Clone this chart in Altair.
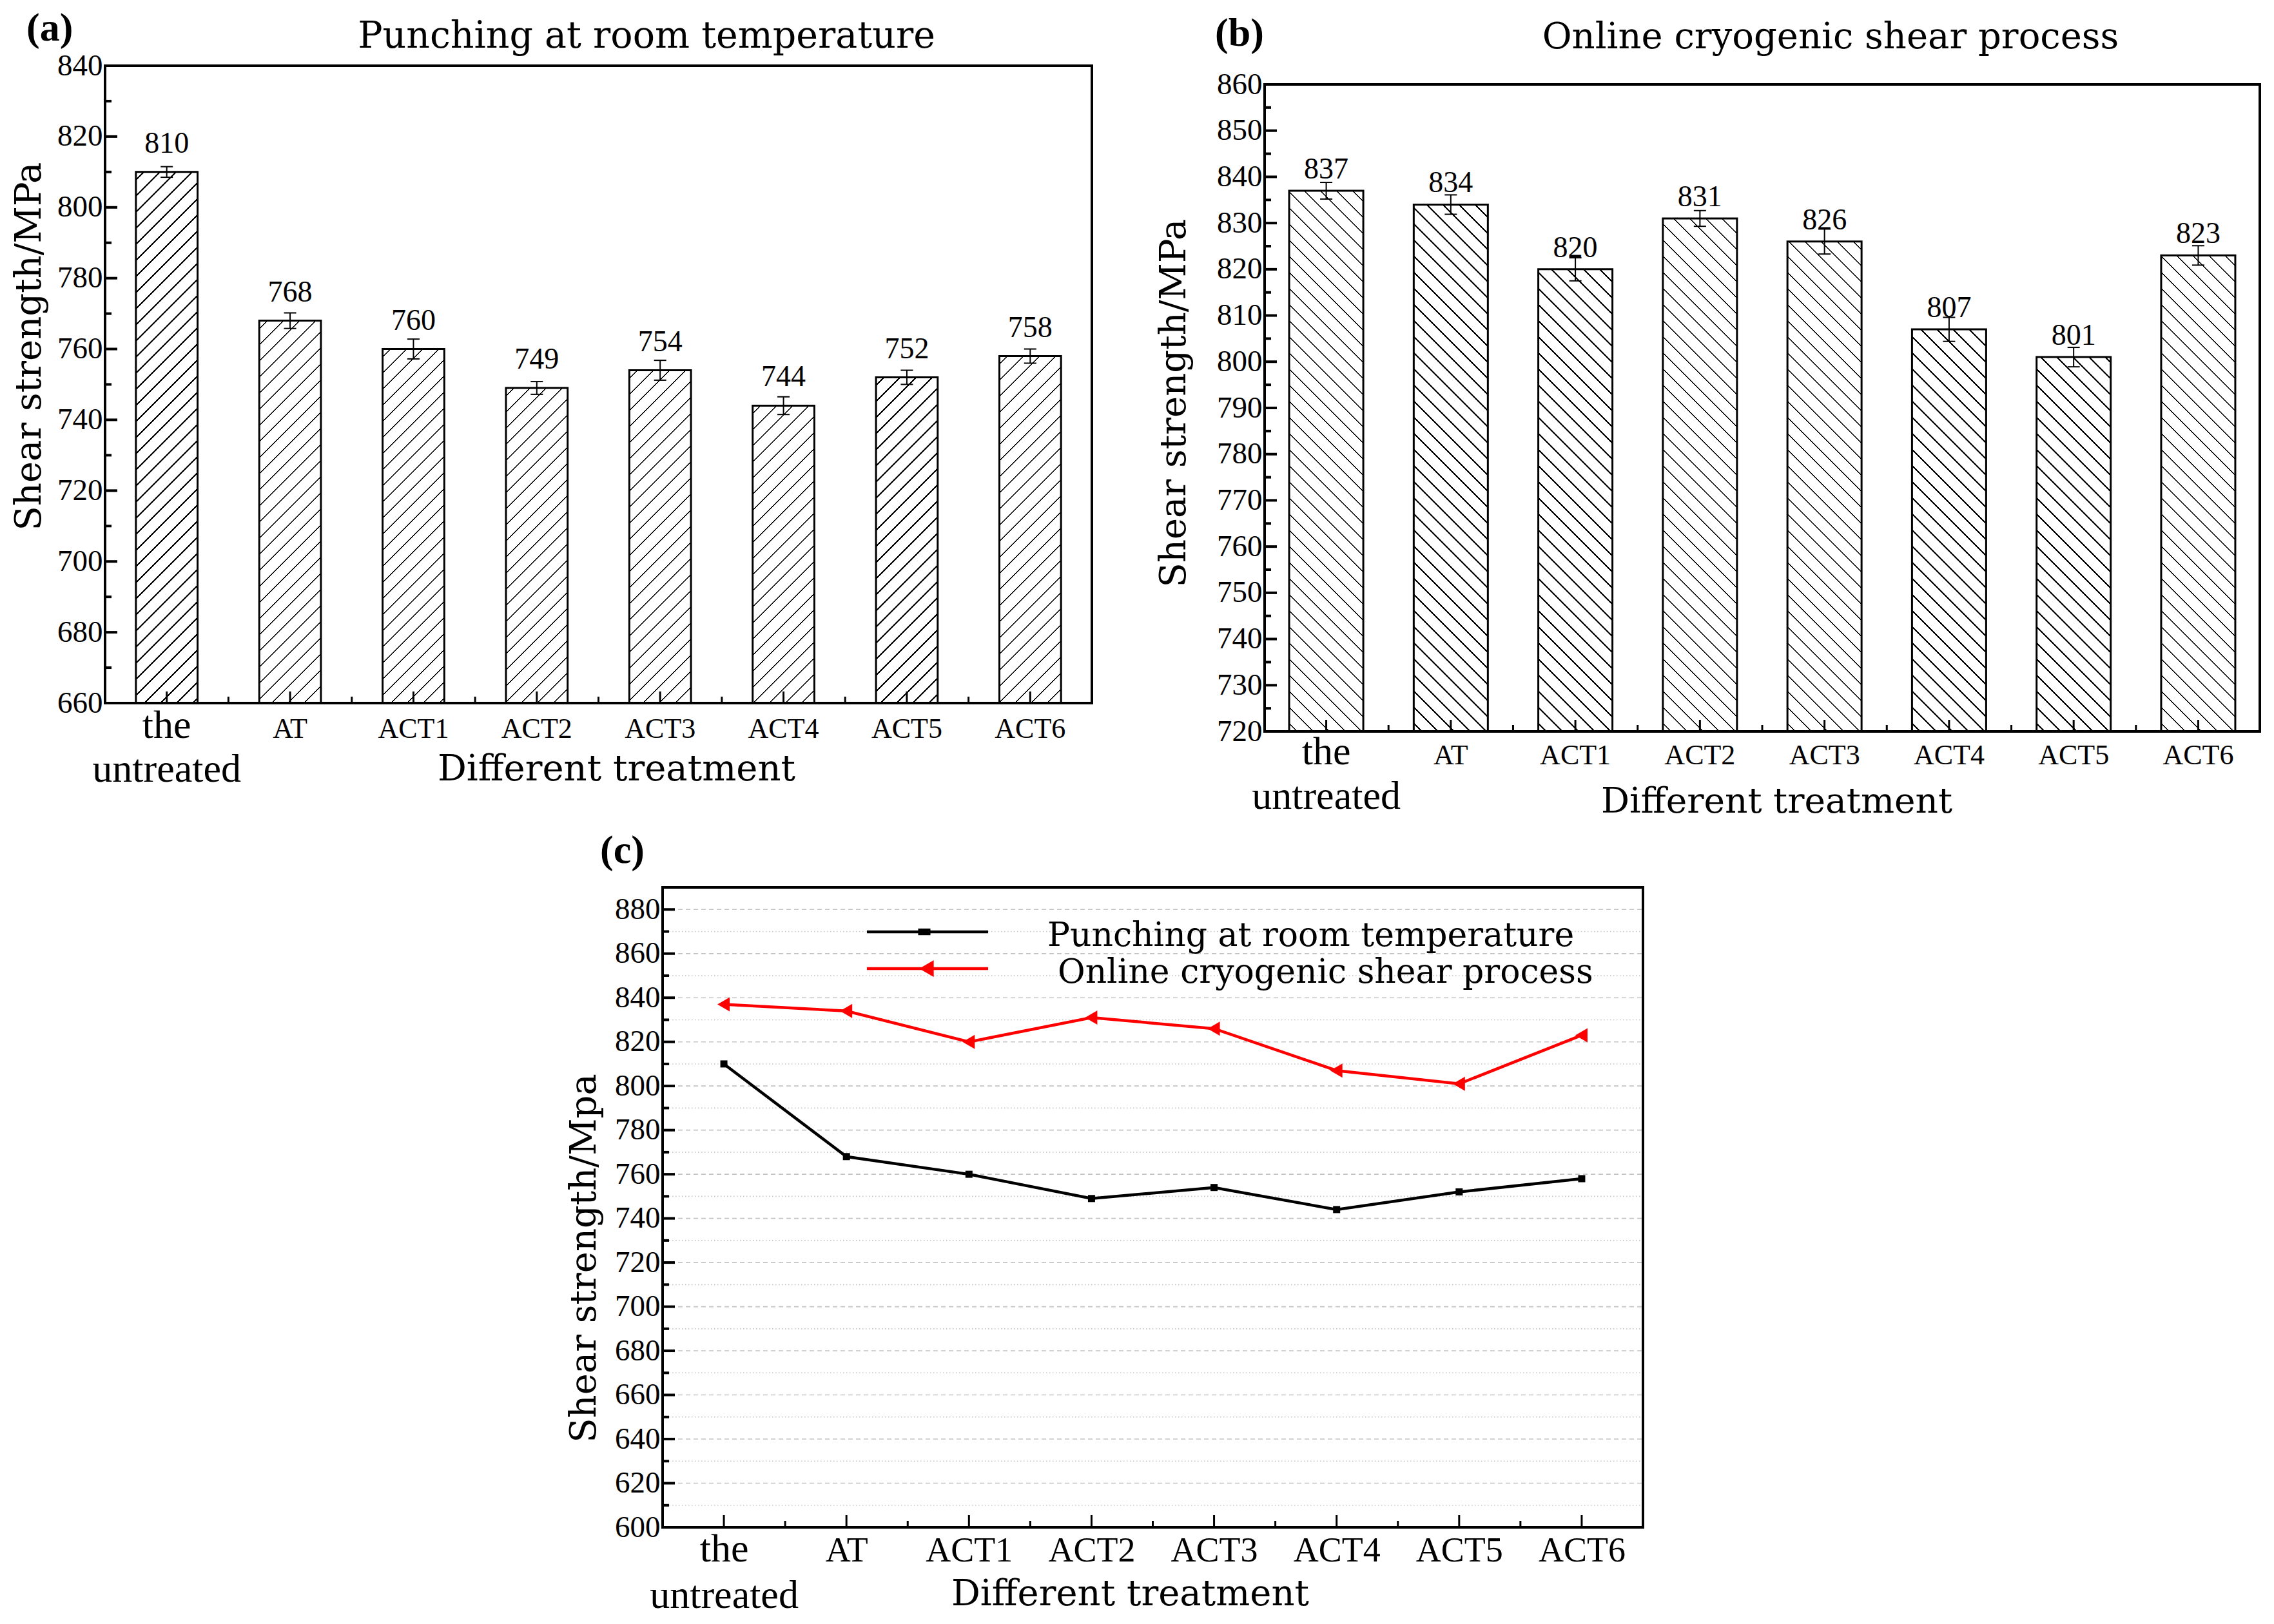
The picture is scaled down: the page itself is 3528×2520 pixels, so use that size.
import altair as alt
import pandas as pd

# ---------------- data ----------------
cats = ["the untreated", "AT", "ACT1", "ACT2", "ACT3", "ACT4", "ACT5", "ACT6"]
room_vals = [810, 768, 760, 749, 754, 744, 752, 758]
room_err = [1.5, 2.2, 2.8, 1.8, 2.8, 2.5, 2.0, 2.0]
cryo_vals = [837, 834, 820, 831, 826, 807, 801, 823]
cryo_err = [1.8, 2.1, 2.5, 1.7, 2.7, 2.6, 2.1, 2.1]
series_names = ["Punching at room temperature", "Online cryogenic shear process"]
series_colors = ["black", "red"]

a_major = list(range(660, 841, 20))
a_minor = list(range(670, 831, 20))
b_major = list(range(720, 861, 10))
b_minor = list(range(725, 856, 10))
c_major = list(range(600, 881, 20))
c_minor = list(range(610, 881, 20))

SERIF = "Liberation Serif"
WIDE = "DejaVu Serif"


def hatch_gradient(w, h, kind, period=25.0, lw=2.6):
    S = w + h
    k = S / (w * w + h * h)
    ax, by = w * k, h * k
    if kind == "fwd":
        x1, y1, x2, y2 = 0.0, 0.0, ax, by
    else:
        x1, y1, x2, y2 = 0.0, 1.0, ax, 1.0 - by
    stops = [(0.0, "white")]
    c = period * 0.5
    while c - lw / 2 < S:
        a = max(0.0, (c - lw / 2) / S)
        b = min(1.0, (c + lw / 2) / S)
        stops += [(a, "white"), (a, "black"), (b, "black"), (b, "white")]
        c += period
    stops.append((1.0, "white"))
    return alt.LinearGradient(
        gradient="linear",
        stops=[alt.GradientStop(offset=round(o, 5), color=col) for o, col in stops],
        x1=x1, y1=y1, x2=round(x2, 5), y2=round(y2, 5),
    )


def x_axis(act_size, pad, line_h, tx, ty, tsize):
    return alt.Axis(
        title="Different treatment", titleFont=WIDE, titleFontSize=tsize,
        titleFontWeight="normal", titleColor="black", titleX=tx, titleY=ty,
        titleAlign="center", titleBaseline="alphabetic", titleAngle=0, titleLimit=0,
        labelExpr="datum.value === 'the untreated' ? ['the', 'untreated'] : datum.label",
        labelFont=SERIF,
        labelFontSize={"condition": {"test": "datum.value === 'the untreated'", "value": 62},
                       "value": act_size},
        labelColor="black", labelAngle=0, labelBaseline="alphabetic", labelPadding=pad,
        labelLineHeight=line_h, labelLimit=0, labelOverlap=False,
        domain=False, ticks=False, grid=False,
    )


def y_axis(values, title, tx, ty):
    return alt.Axis(
        values=values, title=title, titleFont=WIDE, titleFontSize=56,
        titleFontWeight="normal", titleColor="black", titleX=tx, titleY=ty,
        titleAngle=270, titleAlign="center", titleBaseline="middle", titleLimit=0,
        labelFont=SERIF, labelFontSize=47, labelColor="black", labelPadding=4,
        labelOverlap=False, format="d", domain=False, ticks=False, grid=False,
    )


def text_layer(txt, x, y, font, size, weight="normal", align="left", color="black"):
    return alt.Chart(pd.DataFrame({"t": [txt]})).mark_text(
        font=font, fontSize=size, fontWeight=weight, align=align,
        baseline="alphabetic", color=color).encode(
        text="t:N", x=alt.value(x), y=alt.value(y))


def bar_panel(vals, errs, ymin, ymax, W, H, ext, pin, pout, major, minor, kind,
              label_dy, act_size, xpad, xlh, xtx, xty, xts, ytx, yty,
              tag, tagx, tagy, title, ttx, tty, tsize):
    df = pd.DataFrame({
        "cat": cats, "val": vals,
        "lo": [v - e for v, e in zip(vals, errs)],
        "hi": [v + e for v, e in zip(vals, errs)],
        "lab": [str(v) for v in vals],
    })
    xenc = alt.X("cat:N", sort=cats,
                 scale=alt.Scale(domain=cats, paddingInner=pin, paddingOuter=pout),
                 axis=x_axis(act_size, xpad, xlh, xtx, xty, xts))
    ys = alt.Scale(domain=[ymin, ymax], range=[H + ext, ext], nice=False, zero=False)
    yax = y_axis(major, "Shear strength/MPa", ytx, yty)

    def Y(f):
        return alt.Y(f, scale=ys, axis=yax)

    step = W / (8 - pin + 2 * pout)
    bw = step * (1 - pin)
    layers = []
    for c, v in zip(cats, vals):
        h = (v - ymin) / (ymax - ymin) * H
        layers.append(
            alt.Chart(df).transform_filter(alt.datum.cat == c)
            .mark_bar(fill=hatch_gradient(bw, h, kind), stroke="black", strokeWidth=3)
            .encode(x=xenc, y=Y("val:Q"), y2=alt.datum(ymin))
        )
    layers.append(alt.Chart(df).mark_rule(color="black", strokeWidth=2)
                  .encode(x=xenc, y=Y("lo:Q"), y2="hi:Q"))
    for f in ["lo:Q", "hi:Q"]:
        layers.append(alt.Chart(df).mark_tick(color="black", thickness=2, size=19, opacity=1)
                      .encode(x=xenc, y=Y(f)))
    layers.append(alt.Chart(df).mark_text(dy=label_dy, baseline="alphabetic", font=SERIF,
                                          fontSize=46, color="black")
                  .encode(x=xenc, y=Y("val:Q"), text="lab:N"))
    tmaj = pd.DataFrame({"t": major})
    tmin = pd.DataFrame({"t": minor})
    layers.append(alt.Chart(tmaj).mark_rule(color="black", strokeWidth=4)
                  .encode(y=Y("t:Q"), x=alt.value(0), x2=alt.value(19)))
    layers.append(alt.Chart(tmin).mark_rule(color="black", strokeWidth=4)
                  .encode(y=Y("t:Q"), x=alt.value(0), x2=alt.value(10)))
    layers.append(alt.Chart(df).mark_rule(color="black", strokeWidth=3)
                  .encode(x=xenc, y=alt.value(H + ext), y2=alt.value(H + ext - 18)))
    layers.append(alt.Chart(df).transform_filter(alt.datum.cat != cats[-1])
                  .mark_rule(color="black", strokeWidth=3, xOffset=step / 2)
                  .encode(x=xenc, y=alt.value(H + ext), y2=alt.value(H + ext - 10)))
    layers.append(alt.Chart(pd.DataFrame({"f": [0]}))
                  .mark_rect(filled=False, color="black", strokeWidth=4)
                  .encode(x=alt.value(0), x2=alt.value(W), y=alt.value(ext), y2=alt.value(H + ext)))
    layers.append(text_layer(tag, tagx, tagy, SERIF, 62, weight="bold"))
    layers.append(text_layer(title, ttx, tty, WIDE, tsize, align="center"))
    return alt.layer(*layers).properties(width=W, height=H + ext)


# ---------------- panel (a) ----------------
WA, HA = 1531, 989
panel_a = bar_panel(room_vals, room_err, 660, 840, WA, HA, 0, 0.5, 0.25, a_major, a_minor,
                    "fwd", -30, 44, 53, 68, 793, 119, 56, -118, 435,
                    "(a)", -122, -39, "Punching at room temperature", 840, -28, 57)

# ---------------- panel (b) ----------------
WB, HB, EXTB = 1544, 1004, 29
panel_b = bar_panel(cryo_vals, cryo_err, 720, 860, WB, HB, EXTB, 0.405, 0.197, b_major, b_minor,
                    "back", -19, 44, 50, 69, 794, 125, 55, -141, 523,
                    "(b)", -77, -31, "Online cryogenic shear process", 878, -27, 56)

# ---------------- panel (c) ----------------
WC, HC = 1521, 993
dfc = pd.DataFrame({
    "cat": cats * 2,
    "series": [series_names[0]] * 8 + [series_names[1]] * 8,
    "val": room_vals + cryo_vals,
})
xc = alt.X("cat:N", sort=cats,
           scale=alt.Scale(type="point", domain=cats, padding=0.5),
           axis=x_axis(54, 52, 72, 725, 120, 56))
ysc = alt.Scale(domain=[600, 890], range=[HC, 0], nice=False, zero=False)
yaxc = y_axis(c_major, "Shear strength/Mpa", -122, 575)


def YC(f):
    return alt.Y(f, scale=ysc, axis=yaxc)


step_c = WC / 8
SQUARE = "M-1,-1H1V1H-1Z"
TRI_LEFT = "M-1,0L0.9,-1.1L0.9,1.1Z"

grid_major = alt.Chart(pd.DataFrame({"t": c_major})).mark_rule(
    color="#c4c4c4", strokeWidth=1.6, strokeDash=[7, 5]).encode(
    y=YC("t:Q"), x=alt.value(0), x2=alt.value(WC))
grid_minor = alt.Chart(pd.DataFrame({"t": c_minor})).mark_rule(
    color="#c4c4c4", strokeWidth=1.6, strokeDash=[1.5, 3.5]).encode(
    y=YC("t:Q"), x=alt.value(0), x2=alt.value(WC))
lines = alt.Chart(dfc).mark_line(strokeWidth=4.5).encode(
    x=xc, y=YC("val:Q"),
    color=alt.Color("series:N", scale=alt.Scale(domain=series_names, range=series_colors),
                    legend=None))
pts_black = alt.Chart(dfc).transform_filter(alt.datum.series == series_names[0]).mark_point(
    shape=SQUARE, filled=True, size=121, color="black", opacity=1).encode(
    x=xc, y=YC("val:Q"))
pts_red = alt.Chart(dfc).transform_filter(alt.datum.series == series_names[1]).mark_point(
    shape=TRI_LEFT, filled=True, size=400, color="red", opacity=1).encode(
    x=xc, y=YC("val:Q"))

# legend (line sample + marker + label), drawn inside the plot like the original
leg_layers = []
for name, col, shape, size, ly, mx, tx, ty in [
    (series_names[0], "black", "M-1.1,-0.6H1.1V0.6H-1.1Z", 300, 69, 406, 597, 91),
    (series_names[1], "red", TRI_LEFT, 560, 126, 410, 613, 148),
]:
    leg_layers.append(alt.Chart(pd.DataFrame({"s": [name]})).mark_rule(
        color=col, strokeWidth=4.5).encode(
        x=alt.value(317), x2=alt.value(505), y=alt.value(ly)))
    leg_layers.append(alt.Chart(pd.DataFrame({"s": [name]})).mark_point(
        shape=shape, filled=True, size=size, color=col, opacity=1).encode(
        x=alt.value(mx), y=alt.value(ly)))
    leg_layers.append(alt.Chart(pd.DataFrame({"s": [name]})).mark_text(
        font=WIDE, fontSize=52, align="left", baseline="alphabetic", color="black").encode(
        text="s:N", x=alt.value(tx), y=alt.value(ty)))

cy_maj = alt.Chart(pd.DataFrame({"t": c_major})).mark_rule(color="black", strokeWidth=4).encode(
    y=YC("t:Q"), x=alt.value(0), x2=alt.value(19))
cy_min = alt.Chart(pd.DataFrame({"t": c_minor})).mark_rule(color="black", strokeWidth=4).encode(
    y=YC("t:Q"), x=alt.value(0), x2=alt.value(10))
dfcat = pd.DataFrame({"cat": cats})
cx_maj = alt.Chart(dfcat).mark_rule(color="black", strokeWidth=3).encode(
    x=xc, y=alt.value(HC), y2=alt.value(HC - 19))
cx_min = alt.Chart(dfcat).transform_filter(alt.datum.cat != cats[-1]).mark_rule(
    color="black", strokeWidth=3, xOffset=step_c / 2).encode(
    x=xc, y=alt.value(HC), y2=alt.value(HC - 10))
frame_c = alt.Chart(pd.DataFrame({"f": [0]})).mark_rect(
    filled=False, color="black", strokeWidth=4).encode(
    x=alt.value(0), x2=alt.value(WC), y=alt.value(0), y2=alt.value(HC))
tag_c = text_layer("(c)", -97, -38, SERIF, 62, weight="bold")

panel_c = alt.layer(grid_minor, grid_major, lines, pts_black, pts_red, *leg_layers,
                    cy_maj, cy_min, cx_maj, cx_min, frame_c, tag_c).properties(
    width=WC, height=HC)

spacer = alt.Chart(pd.DataFrame({"s": [0]})).mark_point(opacity=0).encode(
    x=alt.value(0), y=alt.value(0)).properties(width=865, height=10)

row1 = alt.hconcat(panel_a, panel_b, spacing=268, bounds="flush")
row2 = alt.hconcat(spacer, panel_c, spacing=0, bounds="flush")

chart = alt.vconcat(row1, row2, spacing=16).properties(
    padding={"left": 8, "top": 4, "right": 0, "bottom": 0}
).configure_view(stroke="transparent")

chart.save("out.html", embed_options={"renderer": "svg", "actions": False})
